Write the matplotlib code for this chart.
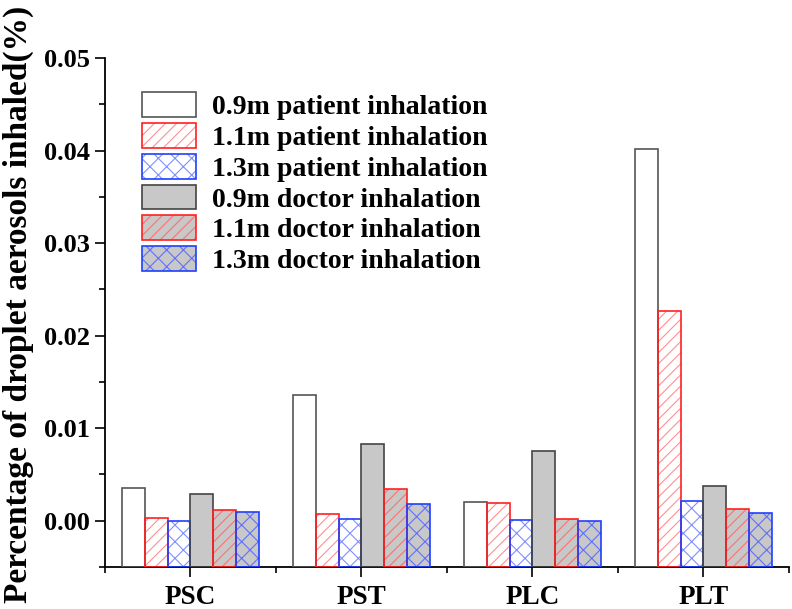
import matplotlib.pyplot as plt
import numpy as np
from matplotlib.legend_handler import HandlerTuple
from matplotlib.ticker import FixedLocator, FormatStrFormatter, MultipleLocator

plt.rcParams["font.family"] = ["Liberation Serif", "DejaVu Serif"]
plt.rcParams["font.weight"] = "bold"
plt.rcParams["hatch.linewidth"] = 0.8

categories = ["PSC", "PST", "PLC", "PLT"]
series_labels = [
    "0.9m patient inhalation",
    "1.1m patient inhalation",
    "1.3m patient inhalation",
    "0.9m doctor inhalation",
    "1.1m doctor inhalation",
    "1.3m doctor inhalation",
]
patient_09 = [0.00354, 0.01355, 0.00205, 0.0402]
patient_11 = [0.00032, 0.00072, 0.0019, 0.0227]
patient_13 = [0.00002, 0.00018, 0.00003, 0.00213]
doctor_09 = [0.00288, 0.0083, 0.0075, 0.00375]
doctor_11 = [0.00115, 0.00342, 0.00018, 0.00126]
doctor_13 = [0.00097, 0.0018, 0.00001, 0.00086]
series = [patient_09, patient_11, patient_13, doctor_09, doctor_11, doctor_13]

# (fill, edge, hatch, hatch colour)
styles = [
    ("white", "#555555", "", "#555555"),
    ("white", "#ff2020", "///", "#ff9090"),
    ("white", "#2040ff", "xx", "#8090ff"),
    ("#c8c8c8", "#444444", "", "#444444"),
    ("#c8c8c8", "#ff2020", "///", "#ff7070"),
    ("#c8c8c8", "#2040ff", "xx", "#6070ff"),
]

YMIN, YMAX = -0.005, 0.05

fig = plt.figure(figsize=(7.92, 6.09), dpi=100)
ax = fig.add_axes([0.1326, 0.069, 0.8634, 0.8358])

x = np.arange(1, len(categories) + 1)
width = 0.8 / len(series)
handles = []
for i, (vals, (fc, ec, hatch, hc)) in enumerate(zip(series, styles)):
    pos = x - 0.4 + width * (i + 0.5)
    heights = np.array(vals) - YMIN
    b1 = ax.bar(pos, heights, width, bottom=YMIN, color=fc, edgecolor=hc,
                hatch=hatch, linewidth=0, zorder=2)
    b2 = ax.bar(pos, heights, width, bottom=YMIN, fill=False, edgecolor=ec,
                linewidth=1.2, zorder=3)
    handles.append((b1.patches[0], b2.patches[0]))

ax.set_xlim(0.5, 4.5)
ax.set_ylim(YMIN, YMAX)
for s in ["top", "right"]:
    ax.spines[s].set_visible(False)
for s in ["left", "bottom"]:
    ax.spines[s].set_linewidth(1.3)

ax.set_xticks(x)
ax.set_xticklabels(categories, fontsize=19.5, fontweight="bold")
ax.xaxis.set_minor_locator(FixedLocator(np.arange(0.5, 4.6, 1.0)))
ax.yaxis.set_major_locator(FixedLocator(np.arange(0, 0.051, 0.01)))
ax.yaxis.set_minor_locator(MultipleLocator(0.005))
ax.yaxis.set_major_formatter(FormatStrFormatter("%.2f"))
for lbl in ax.get_yticklabels():
    lbl.set_fontsize(19)
    lbl.set_fontweight("bold")
ax.tick_params(which="major", length=7, width=1.2, direction="out")
ax.tick_params(which="minor", length=4, width=1.2, direction="out")
ax.tick_params(axis="y", pad=4)
ax.tick_params(axis="x", pad=6)

ax.set_ylabel("Percentage of droplet aerosols inhaled(%)", fontsize=24,
              fontweight="bold")
ax.yaxis.set_label_coords(-0.104, 0.515)

ax.legend(handles, series_labels, handler_map={tuple: HandlerTuple(ndivide=1)},
          loc="upper left", bbox_to_anchor=(0.029, 0.965), frameon=False,
          prop={"size": 20, "weight": "bold"}, handlelength=1.95,
          handleheight=1.0, labelspacing=0.1, handletextpad=0.6,
          borderaxespad=0.2)

fig.savefig("out.png", dpi=100)
